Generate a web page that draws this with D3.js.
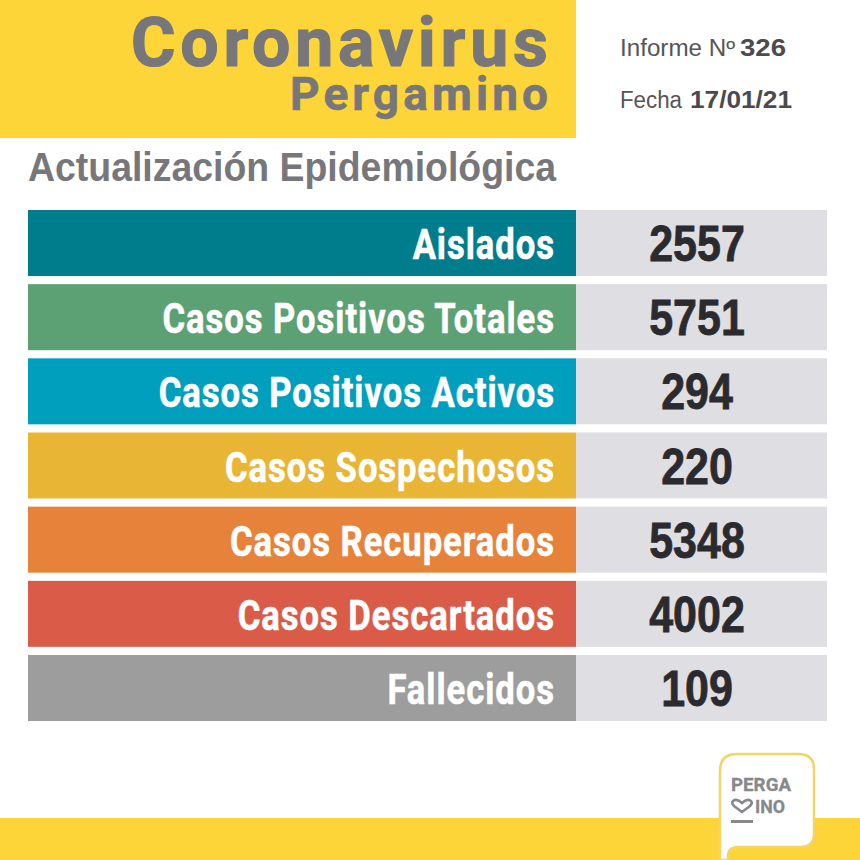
<!DOCTYPE html>
<html><head><meta charset="utf-8">
<script src="https://d3js.org/d3.v7.min.js"></script>
<style>html,body{margin:0;padding:0;background:#fff}svg{display:block}</style>
</head><body><svg id="c" width="860" height="860" viewBox="0 0 860 860"></svg>
<script>
const categories = ["Aislados","Casos Positivos Totales","Casos Positivos Activos","Casos Sospechosos","Casos Recuperados","Casos Descartados","Fallecidos"];
const values = [2557,5751,294,220,5348,4002,109];
const colors = ["#007d8c","#5ca174","#009fbd","#e8b634","#e7823a","#d95b48","#9d9d9d"];
const labelScale = 0.805, valueScale = 0.86;

const svg = d3.select("#c");
const yellow = "#fdd538", grey = "#77777b", dark = "#2b2a2f";
const y = d3.scaleBand().domain(categories).range([210,721]).paddingInner(0.11);
const xL = 28, xM = 576, xR = 827;

svg.append("rect").attr("width",576).attr("height",138).attr("fill",yellow);
svg.append("rect").attr("y",818).attr("width",860).attr("height",42).attr("fill",yellow);

function txt(s,x,yy,size,font,weight,fill,anchor,len,adj){
  const t = svg.append("text").attr("x",x).attr("y",yy).attr("font-size",size)
    .attr("font-family",font).attr("font-weight",weight).attr("fill",fill)
    .attr("text-anchor",anchor||"start").text(s);
  if(len) t.attr("textLength",len).attr("lengthAdjust",adj||"spacingAndGlyphs");
  return t;
}
txt("Coronavirus",131,66,68,"Roboto",700,grey,"start",417,"spacing").attr("stroke",grey).attr("stroke-width",1.2);
txt("Pergamino",290,110,46,"Roboto",700,grey,"start",258,"spacing").attr("stroke",grey).attr("stroke-width",.6);
txt("Actualización Epidemiológica",28,181,41,"Liberation Sans",700,grey,"start",528);
txt("Informe Nº",620,56,23,"Liberation Sans",400,"#55555a","start",115);
txt("326",740,56,23,"Liberation Sans",700,"#4a4a4f","start",46);
txt("Fecha",620,108,23,"Liberation Sans",400,"#55555a","start",62);
txt("17/01/21",690,108,23,"Liberation Sans",700,"#4a4a4f","start",102);

const rows = svg.selectAll("g.row").data(categories.map((c,i)=>({c,v:values[i],col:colors[i]}))).join("g").attr("class","row");
rows.append("rect").attr("x",xL).attr("y",d=>y(d.c)).attr("width",xM-xL).attr("height",y.bandwidth()).attr("fill",d=>d.col);
rows.append("rect").attr("x",xM).attr("y",d=>y(d.c)).attr("width",xR-xM).attr("height",y.bandwidth()).attr("fill","#dfdee2");
rows.append("text")
  .attr("transform",d=>`translate(555,${y(d.c)+y.bandwidth()/2+16}) scale(${labelScale},1)`)
  .attr("text-anchor","end").attr("font-family","Roboto").attr("font-weight",700)
  .attr("font-size",43).attr("fill","#fff").attr("stroke","#fff").attr("stroke-width",.6).attr("letter-spacing",1.2).text(d=>d.c);
rows.append("text")
  .attr("transform",d=>`translate(697,${y(d.c)+y.bandwidth()/2+18}) scale(${valueScale},1)`)
  .attr("text-anchor","middle").attr("font-family","Liberation Sans").attr("font-weight",700)
  .attr("font-size",50).attr("fill",dark).attr("stroke",dark).attr("stroke-width",.8).text(d=>d.v);

// logo
svg.append("path").attr("d","M720 860V771Q720 754 737 754H798Q814 754 814 769V834Q814 847 800 847H738Q728 847 728 856V860Z")
  .attr("fill","#fff").attr("stroke","#f3d469").attr("stroke-width",2.5);
txt("PERGA",731,791,19,"Roboto",700,"#88888c","start",60).attr("stroke","#88888c").attr("stroke-width",.3);
txt("INO",755,813,19,"Roboto",700,"#88888c","start",30).attr("stroke","#88888c").attr("stroke-width",.3);
svg.append("path").attr("d","M742 812L734 806Q731 803 733 801Q737 798 742 803Q747 798 751 801Q753 803 750 806Z")
  .attr("fill","none").attr("stroke","#88888c").attr("stroke-width",2.5);
svg.append("rect").attr("x",731).attr("y",820).attr("width",22).attr("height",3).attr("fill","#88888c");
</script></body></html>
